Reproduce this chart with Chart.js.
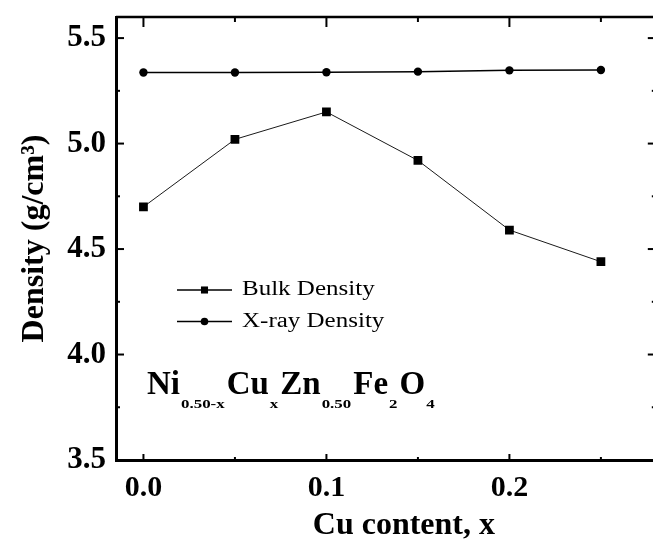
<!DOCTYPE html>
<html>
<head>
<meta charset="utf-8">
<script src="https://cdn.jsdelivr.net/npm/chart.js@4.4.1/dist/chart.umd.min.js"></script>
<style>
html, body { margin: 0; padding: 0; background: #fff; }
#wrap { width: 653px; height: 540px; overflow: hidden; position: relative; }
canvas { display: block; }
</style>
</head>
<body>
<div id="wrap"><canvas id="c" width="662" height="540"></canvas></div>
<script>
// Cu content x in Ni(0.50-x) Cu(x) Zn(0.50) Fe2O4
const cuContent   = [0, 0.05, 0.10, 0.15, 0.20, 0.25];
const bulkDensity = [4.70, 5.02, 5.15, 4.92, 4.59, 4.44];
const xrayDensity = [5.337, 5.337, 5.338, 5.341, 5.347, 5.349];
const seriesNames = ['Bulk Density', 'X-ray Density'];

const xTickValues = [0, 0.05, 0.10, 0.15, 0.20, 0.25];
const xTickLabels = ['0.0', '', '0.1', '', '0.2', ''];
const yTickValues = [3.5, 3.75, 4.0, 4.25, 4.5, 4.75, 5.0, 5.25, 5.5];
const yTickLabels = ['3.5', '', '4.0', '', '4.5', '', '5.0', '', '5.5'];

const xTitle = 'Cu content, x';
const yTitle = 'Density (g/cm\u00B3)';
// composition label: [text, isSubscript]
const formulaParts = [['Ni', 0], ['0.50-x', 1], ['Cu', 0], ['x', 1], ['Zn', 0], ['0.50', 1], ['Fe', 0], ['2', 1], ['O', 0], ['4', 1]];

const SERIF = '"Liberation Serif", "Times New Roman", serif';

function seg(ctx, x1, y1, x2, y2) {
  ctx.beginPath(); ctx.moveTo(x1, y1); ctx.lineTo(x2, y2); ctx.stroke();
}

// closed frame with inward-pointing tick marks on all four sides
const frameTicks = {
  id: 'frameTicks',
  afterDraw(chart) {
    const { ctx, chartArea: a, scales: { x, y } } = chart;
    ctx.save();
    ctx.strokeStyle = '#000';
    ctx.lineWidth = 2.5;
    ctx.beginPath();
    ctx.moveTo(a.left, a.top); ctx.lineTo(a.right, a.top); ctx.lineTo(a.right, a.bottom);
    ctx.stroke();
    ctx.lineWidth = 2;
    x.ticks.forEach((t, i) => {
      const px = x.getPixelForValue(t.value);
      const major = xTickLabels[i] !== '';
      seg(ctx, px, a.top, px, a.top + (major ? 10 : 5));
      seg(ctx, px, a.bottom, px, a.bottom - (major ? 6 : 3));
    });
    y.ticks.forEach((t, i) => {
      const py = y.getPixelForValue(t.value);
      const len = yTickLabels[i] !== '' ? 8 : 4;
      seg(ctx, a.left, py, a.left + len, py);
      seg(ctx, a.right, py, a.right - len, py);
    });
    ctx.restore();
  }
};

// legend placed inside the plot area
const insetLegend = {
  id: 'insetLegend',
  afterDraw(chart) {
    const { ctx, chartArea: a } = chart;
    const lx = a.left + 61, ly = a.top + 273, len = 55, gap = 31.5;
    chart.data.datasets.forEach((ds, i) => {
      const yy = ly + i * gap;
      ctx.save();
      ctx.strokeStyle = '#000';
      ctx.fillStyle = '#000';
      ctx.lineWidth = 1.5;
      seg(ctx, lx, yy, lx + len, yy);
      Chart.helpers.drawPoint(ctx, {
        pointStyle: ds.pointStyle,
        radius: ds.pointStyle === 'rect' ? 5 : 3.8,
        borderWidth: 0, rotation: 0
      }, lx + len / 2, yy);
      ctx.font = `20px ${SERIF}`;
      ctx.textBaseline = 'middle';
      ctx.textAlign = 'left';
      ctx.translate(lx + len + 10, yy);
      ctx.scale(1.25, 1);
      ctx.fillText(ds.label, 0, 0);
      ctx.restore();
    });
  }
};

// chemical formula with subscripts
const formulaLabel = {
  id: 'formulaLabel',
  afterDraw(chart) {
    const { ctx, chartArea: a } = chart;
    let px = a.left + 31;
    const base = a.top + 377;
    ctx.save();
    ctx.fillStyle = '#000';
    ctx.textBaseline = 'alphabetic';
    ctx.textAlign = 'left';
    for (const [txt, sub] of formulaParts) {
      if (sub) {
        ctx.font = `bold 13px ${SERIF}`;
        const w = ctx.measureText(txt).width * 1.3;
        ctx.save();
        ctx.translate(px + 1, base + 14);
        ctx.scale(1.3, 1);
        ctx.fillText(txt, 0, 0);
        ctx.restore();
        px += w + 3;
      } else {
        ctx.font = `bold 33px ${SERIF}`;
        ctx.fillText(txt, px, base);
        px += ctx.measureText(txt).width;
      }
    }
    ctx.restore();
  }
};

// x-axis title
const xAxisTitle = {
  id: 'xAxisTitle',
  afterDraw(chart) {
    const { ctx, chartArea: a } = chart;
    ctx.save();
    ctx.fillStyle = '#000';
    ctx.font = `bold 32px ${SERIF}`;
    ctx.textAlign = 'center';
    ctx.textBaseline = 'alphabetic';
    ctx.fillText(xTitle, (a.left + a.right) / 2 + 18, a.bottom + 74);
    ctx.restore();
  }
};

new Chart(document.getElementById('c'), {
  type: 'scatter',
  data: {
    datasets: [
      {
        label: seriesNames[0],
        data: cuContent.map((x, i) => ({ x, y: bulkDensity[i] })),
        showLine: true,
        borderColor: '#1a1a1a',
        backgroundColor: '#000',
        borderWidth: 1,
        pointStyle: 'rect',
        pointRadius: 6.2,
        pointBorderWidth: 0
      },
      {
        label: seriesNames[1],
        data: cuContent.map((x, i) => ({ x, y: xrayDensity[i] })),
        showLine: true,
        borderColor: '#000',
        backgroundColor: '#000',
        borderWidth: 1.5,
        pointStyle: 'circle',
        pointRadius: 4.2,
        pointBorderWidth: 0
      }
    ]
  },
  options: {
    responsive: false,
    animation: false,
    events: [],
    layout: { padding: { left: 0, top: 17, right: 3, bottom: 0 } },
    plugins: { legend: { display: false }, tooltip: { enabled: false } },
    scales: {
      x: {
        type: 'linear',
        min: -0.015,
        max: 0.28,
        afterBuildTicks: s => { s.ticks = xTickValues.map(v => ({ value: v })); },
        afterFit: s => { s.height = 80; s.paddingLeft = 0; s.paddingRight = 0; },
        grid: { display: false, drawTicks: false },
        border: { display: true, color: '#000', width: 3 },
        ticks: {
          autoSkip: false, maxRotation: 0, padding: 10, color: '#000',
          font: { family: SERIF, size: 30, weight: 'bold' },
          callback: (v, i) => xTickLabels[i]
        }
      },
      y: {
        type: 'linear',
        min: 3.5,
        max: 5.6,
        afterBuildTicks: s => { s.ticks = yTickValues.map(v => ({ value: v })); },
        afterFit: s => { s.width = 116; s.paddingTop = 0; s.paddingBottom = 0; },
        grid: { display: false, drawTicks: false },
        border: { display: true, color: '#000', width: 3 },
        ticks: {
          autoSkip: false, padding: 10, color: '#000',
          font: { family: SERIF, size: 31, weight: 'bold' },
          callback: (v, i) => yTickLabels[i]
        },
        title: {
          display: true, text: yTitle, color: '#000',
          font: { family: SERIF, size: 32, weight: 'bold' },
          padding: { top: 16, bottom: 0 }
        }
      }
    }
  },
  plugins: [frameTicks, insetLegend, formulaLabel, xAxisTitle]
});
</script>
</body>
</html>
